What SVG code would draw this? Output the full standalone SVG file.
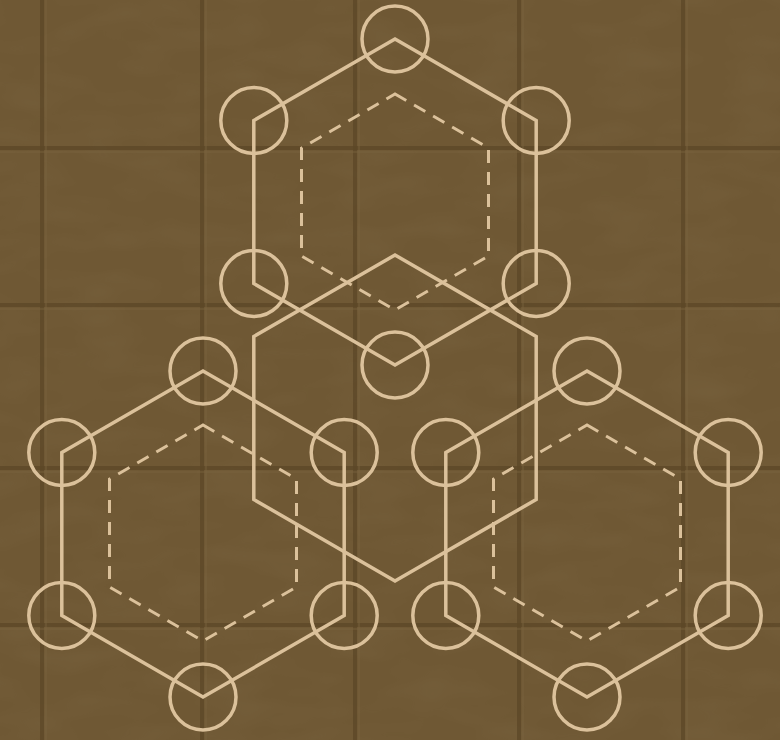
<svg xmlns="http://www.w3.org/2000/svg" xmlns:xlink="http://www.w3.org/1999/xlink" width="780" height="740" viewBox="0 0 780 740">
  <defs>
    <style>
      .hex { fill: none; stroke: #dbc19b; stroke-width: 3.5; stroke-linejoin: miter; }
      .inner { fill: none; stroke: #dbc19b; stroke-width: 3; stroke-dasharray: 13 9; }
      .node { fill: none; stroke: #dbc19b; stroke-width: 3.5; }
      .grid { stroke: #5c4727; stroke-width: 4; opacity: 0.75; }
      .gridhi { stroke: #7a6440; stroke-width: 2; opacity: 0.4; }
    </style>
    <polygon id="hexOuter" points="0,-163 141.2,-81.5 141.2,81.5 0,163 -141.2,81.5 -141.2,-81.5"/>
    <polygon id="hexInner" points="0,-108 93.5,-54 93.5,54 0,108 -93.5,54 -93.5,-54"/>
    <g id="nodes">
      <circle class="node" cx="0" cy="-163" r="33"/>
      <circle class="node" cx="141.2" cy="-81.5" r="33"/>
      <circle class="node" cx="141.2" cy="81.5" r="33"/>
      <circle class="node" cx="0" cy="163" r="33"/>
      <circle class="node" cx="-141.2" cy="81.5" r="33"/>
      <circle class="node" cx="-141.2" cy="-81.5" r="33"/>
    </g>
    <filter id="noise" x="0" y="0" width="100%" height="100%">
      <feTurbulence type="fractalNoise" baseFrequency="0.015 0.04" numOctaves="2" seed="4"/>
      <feColorMatrix type="matrix" values="0 0 0 0 0.35  0 0 0 0 0.27  0 0 0 0 0.15  0 0 0 1.2 -0.45"/>
    </filter>
  </defs>

  <g id="background">
    <rect width="780" height="740" fill="#6f5834"/>
    <rect width="780" height="740" filter="url(#noise)" opacity="0.15"/>
    <g id="grid">
      <line class="grid" x1="42" y1="0" x2="42" y2="740"/>
      <line class="grid" x1="202" y1="0" x2="202" y2="740"/>
      <line class="grid" x1="355" y1="0" x2="355" y2="740"/>
      <line class="grid" x1="519" y1="0" x2="519" y2="740"/>
      <line class="grid" x1="683" y1="0" x2="683" y2="740"/>
      <line class="grid" x1="0" y1="148" x2="780" y2="148"/>
      <line class="grid" x1="0" y1="305" x2="780" y2="305"/>
      <line class="grid" x1="0" y1="468" x2="780" y2="468"/>
      <line class="grid" x1="0" y1="625" x2="780" y2="625"/>
      <line class="gridhi" x1="46" y1="0" x2="46" y2="740"/>
      <line class="gridhi" x1="206" y1="0" x2="206" y2="740"/>
      <line class="gridhi" x1="359" y1="0" x2="359" y2="740"/>
      <line class="gridhi" x1="523" y1="0" x2="523" y2="740"/>
      <line class="gridhi" x1="687" y1="0" x2="687" y2="740"/>
      <line class="gridhi" x1="0" y1="152" x2="780" y2="152"/>
      <line class="gridhi" x1="0" y1="309" x2="780" y2="309"/>
      <line class="gridhi" x1="0" y1="472" x2="780" y2="472"/>
      <line class="gridhi" x1="0" y1="629" x2="780" y2="629"/>
    </g>
  </g>

  <g id="hex-middle" transform="translate(395,418)">
    <use xlink:href="#hexOuter" class="hex"/>
  </g>

  <g id="hex-top" transform="translate(395,202)">
    <use xlink:href="#hexOuter" class="hex"/>
    <use xlink:href="#hexInner" class="inner"/>
    <use xlink:href="#nodes"/>
  </g>

  <g id="hex-bottom-left" transform="translate(203,534)">
    <use xlink:href="#hexOuter" class="hex"/>
    <use xlink:href="#hexInner" class="inner" transform="translate(0,-1)"/>
    <use xlink:href="#nodes"/>
  </g>

  <g id="hex-bottom-right" transform="translate(587,534)">
    <use xlink:href="#hexOuter" class="hex"/>
    <use xlink:href="#hexInner" class="inner" transform="translate(0,-1)"/>
    <use xlink:href="#nodes"/>
  </g>
</svg>
